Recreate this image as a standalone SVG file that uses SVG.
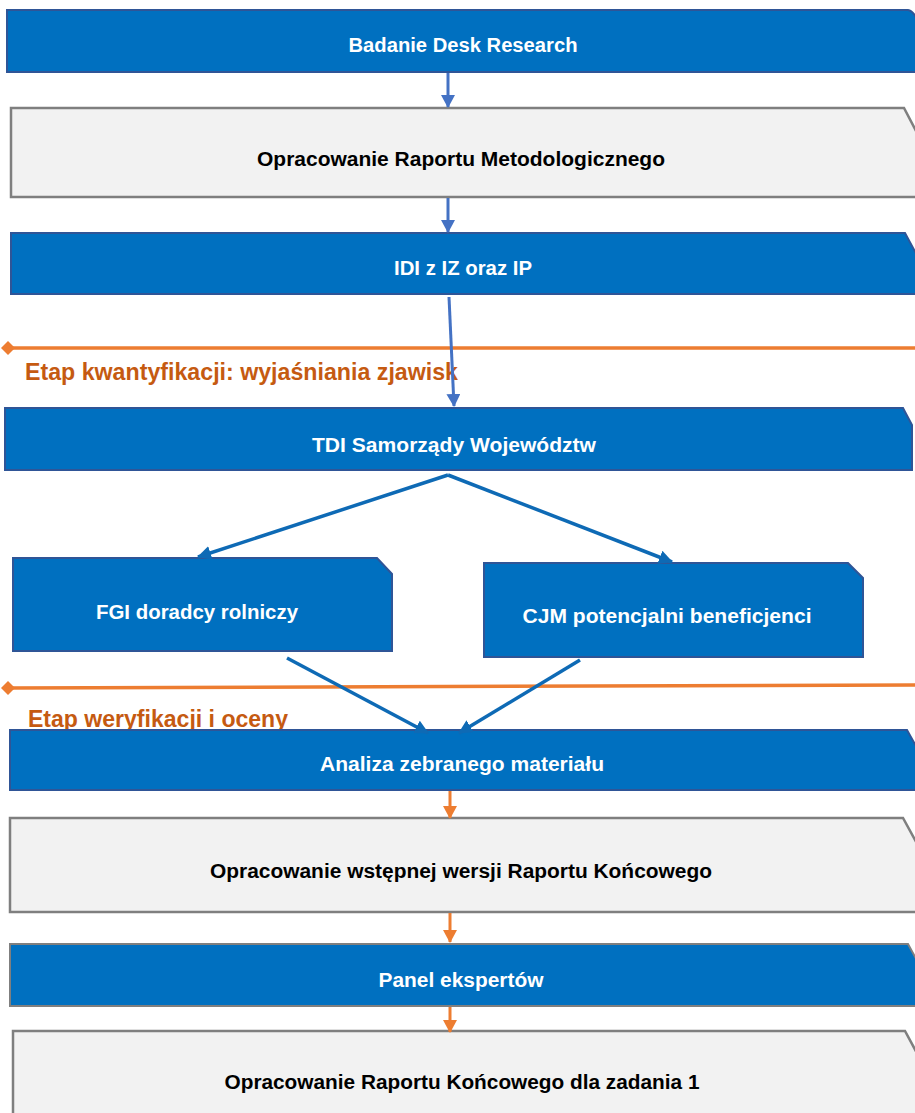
<svg xmlns="http://www.w3.org/2000/svg" width="915" height="1113" viewBox="0 0 915 1113">
<style>
.blue{fill:#0070C0;stroke:#2F5597;stroke-width:2}
.bluegray{fill:#0070C0;stroke:#7F7F7F;stroke-width:2}
.gray{fill:#F2F2F2;stroke:#7F7F7F;stroke-width:2.5}
.tw{font-family:"Liberation Sans",Arial,sans-serif;font-weight:bold;font-size:20px;fill:#FFFFFF;text-anchor:middle}
.tb{font-family:"Liberation Sans",Arial,sans-serif;font-weight:bold;font-size:20px;fill:#000000;text-anchor:middle}
.to{font-family:"Liberation Sans",Arial,sans-serif;font-weight:bold;font-size:23px;fill:#C55A11}
.ab{stroke:#4472C4;stroke-width:3;fill:none}
.ad{stroke:#0E6AB5;stroke-width:3.5;fill:none}
.ao{stroke:#ED7D31;stroke-width:3;fill:none}
.ol{stroke:#ED7D31;stroke-width:3.5;fill:none}
</style>
<defs>
<marker id="mb" markerUnits="userSpaceOnUse" markerWidth="14" markerHeight="16" refX="12" refY="7" orient="auto"><path d="M0,0 L13,7 L0,14 Z" fill="#4472C4"/></marker>
<marker id="md" markerUnits="userSpaceOnUse" markerWidth="16" markerHeight="16" refX="13" refY="7" orient="auto"><path d="M0,0 L14,7 L0,14 Z" fill="#0E6AB5"/></marker>
<marker id="mo" markerUnits="userSpaceOnUse" markerWidth="14" markerHeight="16" refX="12" refY="7" orient="auto"><path d="M0,0 L13,7 L0,14 Z" fill="#ED7D31"/></marker>
<marker id="dia" markerUnits="userSpaceOnUse" markerWidth="14" markerHeight="14" refX="7" refY="7" orient="auto"><path d="M0,7 L7,0 L14,7 L7,14 Z" fill="#ED7D31"/></marker>
</defs>

<g id="stage-lines">
<line class="ol" x1="8" y1="348" x2="922" y2="348" marker-start="url(#dia)"/>
<text class="to" x="25" y="380" textLength="433" lengthAdjust="spacingAndGlyphs">Etap kwantyfikacji: wyjaśniania zjawisk</text>
<line class="ol" x1="8" y1="688" x2="922" y2="685" marker-start="url(#dia)" marker-end="url(#dia)"/>
<text class="to" x="28" y="727" textLength="260" lengthAdjust="spacingAndGlyphs">Etap weryfikacji i oceny</text>
</g>

<g id="n1">
<path class="blue" d="M7,10 H908 Q914,11 918,22 L925,40 V72 H7 Z"/>
<text class="tw" x="463" y="52" textLength="229" lengthAdjust="spacingAndGlyphs">Badanie Desk Research</text>
</g>
<g id="n2">
<path class="gray" d="M11,108 H904 L925,148 V197 H11 Z"/>
<text class="tb" x="461" y="166" textLength="408" lengthAdjust="spacingAndGlyphs">Opracowanie Raportu Metodologicznego</text>
</g>
<g id="n3">
<path class="blue" d="M11,233 H905 L925,270 V294 H11 Z"/>
<text class="tw" x="463" y="275" textLength="138" lengthAdjust="spacingAndGlyphs">IDI z IZ oraz IP</text>
</g>
<g id="n4">
<path class="blue" d="M5,408 H903 L912,425 V470 H5 Z"/>
<text class="tw" x="454" y="452" textLength="284" lengthAdjust="spacingAndGlyphs">TDI Samorządy Województw</text>
</g>
<g id="n5">
<path class="blue" d="M13,558 H377 L392,574 V651 H13 Z"/>
<text class="tw" x="197" y="619" textLength="202" lengthAdjust="spacingAndGlyphs">FGI doradcy rolniczy</text>
</g>
<g id="n6">
<path class="blue" d="M484,563 H848 L863,578 V657 H484 Z"/>
<text class="tw" x="667" y="623" textLength="289" lengthAdjust="spacingAndGlyphs">CJM potencjalni beneficjenci</text>
</g>
<g id="n7">
<path class="blue" d="M10,730 H907 L925,762 V790 H10 Z"/>
<text class="tw" x="462" y="771" textLength="284" lengthAdjust="spacingAndGlyphs">Analiza zebranego materiału</text>
</g>
<g id="n8">
<path class="gray" d="M10,818 H903 L925,858 V912 H10 Z"/>
<text class="tb" x="461" y="878" textLength="502" lengthAdjust="spacingAndGlyphs">Opracowanie wstępnej wersji Raportu Końcowego</text>
</g>
<g id="n9">
<path class="bluegray" d="M10,944 H908 L925,975 V1006 H10 Z"/>
<text class="tw" x="461" y="987" textLength="165" lengthAdjust="spacingAndGlyphs">Panel ekspertów</text>
</g>
<g id="n10">
<path class="gray" d="M13,1031 H905 L925,1068 V1125 H13 Z"/>
<text class="tb" x="462" y="1089" textLength="475" lengthAdjust="spacingAndGlyphs">Opracowanie Raportu Końcowego dla zadania 1</text>
</g>

<g id="connectors">
<line class="ab" x1="448" y1="73" x2="448" y2="107" marker-end="url(#mb)"/>
<line class="ab" x1="448" y1="198" x2="448" y2="232" marker-end="url(#mb)"/>
<line class="ab" x1="449" y1="297" x2="454" y2="406" marker-end="url(#mb)"/>
<line class="ad" x1="448" y1="475" x2="198" y2="557" marker-end="url(#md)"/>
<line class="ad" x1="448" y1="475" x2="672" y2="562" marker-end="url(#md)"/>
<line class="ad" x1="287" y1="658" x2="428" y2="733" marker-end="url(#md)"/>
<line class="ad" x1="580" y1="660" x2="459" y2="733" marker-end="url(#md)"/>
<line class="ao" x1="450" y1="791" x2="450" y2="818" marker-end="url(#mo)"/>
<line class="ao" x1="450" y1="913" x2="450" y2="942" marker-end="url(#mo)"/>
<line class="ao" x1="450" y1="1007" x2="450" y2="1032" marker-end="url(#mo)"/>
</g>
</svg>
